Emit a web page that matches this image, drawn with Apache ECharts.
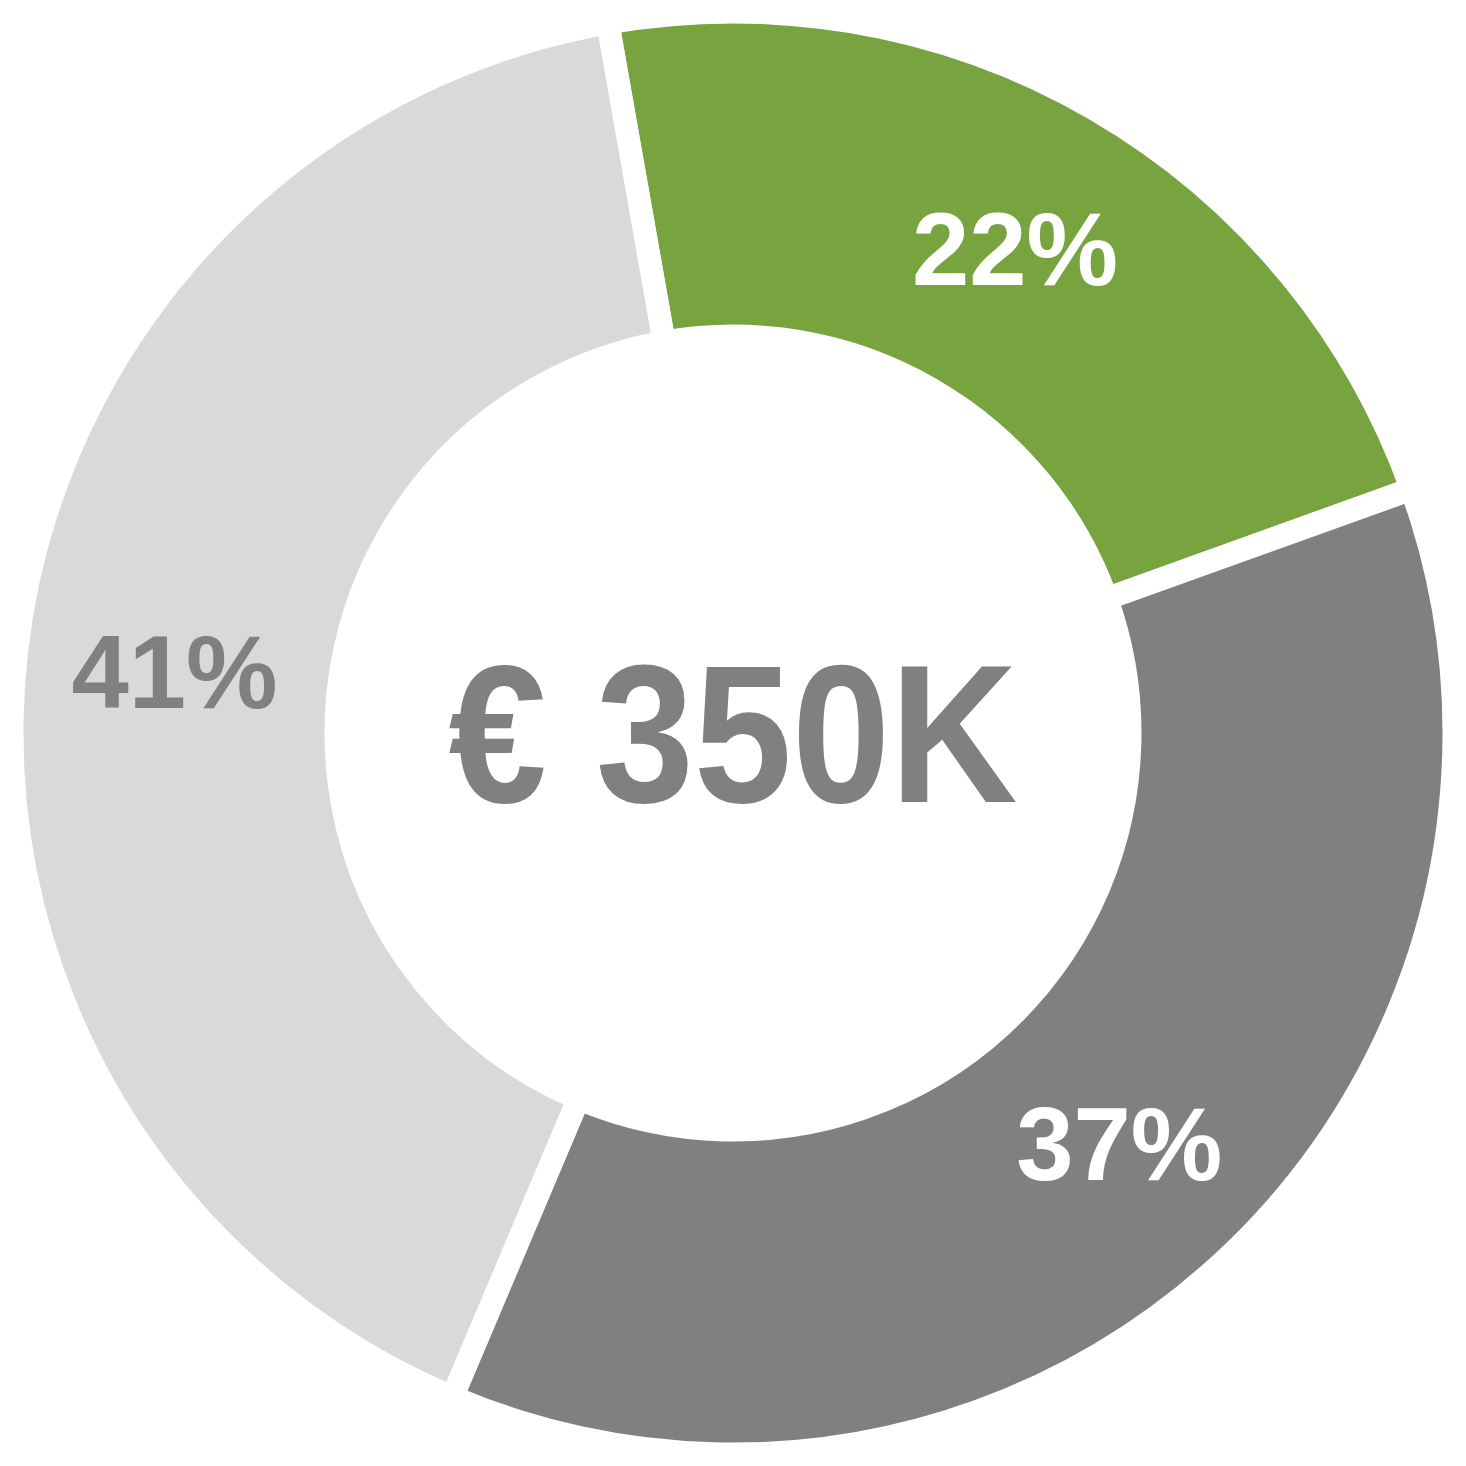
<!DOCTYPE html>
<html>
<head>
<meta charset="utf-8">
<script src="https://cdn.jsdelivr.net/npm/echarts@6/dist/echarts.min.js"></script>
<style>html,body{margin:0;padding:0;background:#fff}#c{width:1466px;height:1466px}</style>
</head>
<body>
<div id="c"></div>
<script>
// values in thousand euro (total 350K)
const categories = ['A', 'B', 'C'];
const values = [78, 129, 143];
const colors = ['#77A43F', '#808080', '#D9D9D9'];
const labelColors = ['#FFFFFF', '#FFFFFF', '#808080'];
const centerText = '€ 350K';

const chart = echarts.init(document.getElementById('c'), null, {renderer: 'canvas'});
chart.setOption({
  animation: false,
  backgroundColor: '#fff',
  graphic: [{
    type: 'text',
    style: {
      text: centerText,
      fontFamily: 'Liberation Sans, Arial, sans-serif',
      fontWeight: 'bold',
      fontSize: 196,
      fill: '#808080',
      textAlign: 'center',
      textVerticalAlign: 'middle'
    },
    x: 733, y: 748,
    scaleX: 0.9
  }],
  series: [{
    type: 'pie',
    center: [733, 733],
    radius: [397, 721],
    startAngle: 100,
    clockwise: true,
    silent: true,
    percentPrecision: 0,
    label: {
      show: true,
      position: 'inside',
      formatter: '{d}%',
      fontFamily: 'Liberation Sans, Arial, sans-serif',
      fontWeight: 'bold',
      fontSize: 103,
      offset: [0, 10]
    },
    labelLine: {show: false},
    itemStyle: {borderColor: '#fff', borderWidth: 23},
    data: categories.map((n, i) => ({
      name: n, value: values[i],
      itemStyle: {color: colors[i]},
      label: {color: labelColors[i]}
    }))
  }]
});
</script>
</body>
</html>
